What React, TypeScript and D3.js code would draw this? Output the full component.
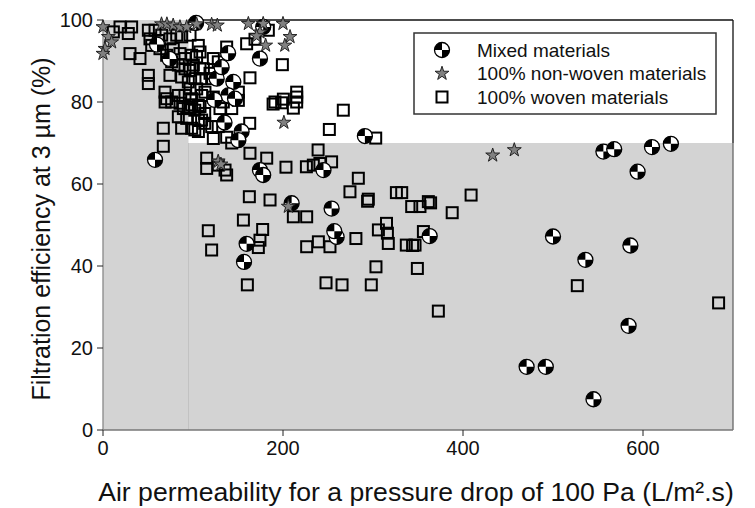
import * as d3 from "d3";

// ---- data ---------------------------------------------------------------
// [air permeability (L/m².s), filtration efficiency (%)]
const wovenPoints: [number, number][] = [
  [11.5, 97.1], [18.9, 98.3], [31.8, 98.3], [28.1, 96.7], [50.4, 97.5], [57.8, 97.5],
  [52.2, 95.4], [61.5, 95.0], [65.2, 96.3], [74.4, 95.4], [81.9, 96.3], [87.4, 95.9],
  [96.7, 96.3], [30, 91.8], [41.1, 90.6], [54.1, 93.8], [63.3, 93.0], [70.7, 91.4],
  [78.1, 93.0], [85.5, 91.8], [91.1, 90.6], [98.5, 91.4], [104, 91], [107.8, 92.2],
  [105.9, 93.8], [76.3, 89.8], [83.7, 89], [91.1, 88.1], [100.4, 89], [107.8, 88.1],
  [96.7, 87.7], [111.5, 88.1], [118.9, 87], [74.4, 86.5], [87.4, 86.1], [94.8, 84.9],
  [102.2, 85.7], [109.6, 85.7], [120.7, 85.7], [50.4, 86.5], [50.4, 84.5], [68.9, 82.4],
  [70.7, 80.8], [76.3, 80], [83.7, 81.6], [91.1, 81.6], [98.5, 80.8], [104.1, 83.2],
  [109.6, 81.6], [96.7, 83.2], [113.3, 82.4], [122.6, 81.2], [105.9, 79.2], [94.8, 78.8],
  [89.3, 78.4], [69, 80], [85.6, 79.7], [98.5, 79.3], [102, 78], [107.8, 78.9],
  [96.7, 78.4], [133.7, 80], [130, 78.4], [83.7, 76.4], [93, 76], [87.4, 73.6],
  [98.5, 73.6], [109.6, 75.6], [106, 72.8], [113, 77.2], [106, 75.6], [113, 74.8],
  [102, 73.2], [120.8, 74], [128, 74], [67, 73.6], [67, 69.2], [122.6, 90.6],
  [128.1, 89.8], [137.4, 93.4], [150.4, 82.4], [150.4, 80.4], [143, 78.4], [163.3, 85.9],
  [159.6, 94.2], [168.9, 95.3], [183.7, 97.5], [199.3, 89.1], [191.1, 80], [200.4, 80.7],
  [215.2, 82.4], [215.2, 81.2], [215.2, 80], [189, 79.5], [198.5, 79.8], [211.5, 78.5],
  [267, 78], [251.5, 73.3], [163, 74.8], [122.6, 71.1], [137.4, 71.4], [143, 70],
  [303, 71.2], [115.2, 66.3], [115.2, 63.8], [128.1, 64.6], [135.6, 63.4], [137.4, 62.2],
  [163.3, 67.5], [181.9, 66.3], [203.3, 64.1], [226, 64.2], [233.7, 64.6], [241, 65],
  [254, 65.4], [239, 68.3], [283.7, 61.4], [274.4, 58.1], [294.8, 56.3], [326, 57.9],
  [331.9, 57.9], [343, 54.5], [352.2, 54.5], [361.5, 55.7], [162.6, 56.9], [185.6, 56.1],
  [211.5, 52], [226.3, 52], [156, 51.2], [117, 48.6], [120.7, 43.9], [177.4, 48.9],
  [174.4, 46.3], [172.6, 44.5], [226.3, 44.7], [239.3, 45.9], [252.2, 44.7], [281, 46.7],
  [306, 48.8], [315, 50.4], [316, 48], [317, 45.5], [160.4, 35.4], [303.3, 39.8],
  [349.3, 39.4], [247.8, 35.9], [265.6, 35.4], [298.1, 35.4], [337, 45.1], [346.7, 45.1],
  [356, 48.4], [294, 55.8], [364, 55.4], [388, 53], [344, 45], [409, 57.3],
  [372.6, 29], [527, 35.2], [684, 31],
];

const mixedPoints: [number, number][] = [
  [57.8, 65.9], [103.5, 99.3], [139, 91.9], [174.4, 90.6], [126.3, 85.7], [144.8, 84.9],
  [131.8, 88.5], [139.2, 81.6], [146.7, 80.8], [124, 80.5], [135, 75], [154, 72.8],
  [150.4, 70.7], [60, 94], [74, 90.5], [174.4, 63.4], [178, 62.2], [245, 63.4],
  [209.6, 55.3], [254, 54], [159.6, 45.4], [156.7, 41], [259.6, 47.1], [257, 48.5],
  [291, 71.7], [363, 47.3], [500, 47.2], [536, 41.5], [586, 45], [584, 25.4],
  [470.7, 15.4], [492, 15.4], [545, 7.5], [556, 67.9], [568, 68.5], [610, 69],
  [631, 69.8], [594, 63], [178, 98.3],
];

const nonWovenPoints: [number, number][] = [
  [0, 98.3], [6, 95.9], [9.6, 94.6], [2.2, 93], [0, 91.8], [65, 99], [71, 99],
  [78, 98.7], [85.5, 98.3], [93, 98.3], [104, 99], [120.7, 98.9], [127, 98.7],
  [161.5, 99.1], [178, 99.1], [200, 99.1], [174.4, 97], [170.7, 96.1], [180.7, 93.8],
  [207.8, 95.9], [202, 93.8], [201, 75], [128, 65.5], [131, 64.8], [205.9, 54.5],
  [433, 67], [457, 68.3],
];

// shaded zone: [x, y] corners
const zoneCorners: [number, number][] = [
  [0, 0], [0, 100], [95, 100], [95, 70], [700, 70], [700, 0],
];

const xTicks = [0, 200, 400, 600];
const yTicks = [0, 20, 40, 60, 80, 100];

const legendItems = [
  { kind: "mixed", label: "Mixed materials" },
  { kind: "star", label: "100% non-woven materials" },
  { kind: "square", label: "100% woven materials" },
];

// ---- layout --------------------------------------------------------------
const W = 755;
const H = 508;
const FONT = "'Liberation Sans', Arial, sans-serif";

const x = d3.scaleLinear().domain([0, 700]).range([103, 733]);
const y = d3.scaleLinear().domain([0, 100]).range([430, 20]);

const SQ = 11;
const R = 7.5;
const starPath = d3.symbol(d3.symbolStar, 60)()!;
const quadTL = d3.arc()({ innerRadius: 0, outerRadius: R, startAngle: -Math.PI / 2, endAngle: 0 })!;
const quadBR = d3.arc()({ innerRadius: 0, outerRadius: R, startAngle: Math.PI / 2, endAngle: Math.PI })!;

function Mixed({ cx, cy }: { cx: number; cy: number }) {
  return (
    <g transform={`translate(${cx},${cy})`}>
      <circle r={R} fill="#fff" />
      <path d={quadTL} fill="#000" />
      <path d={quadBR} fill="#000" />
      <circle r={R} fill="none" stroke="#000" strokeWidth={1.3} />
    </g>
  );
}

function Star({ cx, cy }: { cx: number; cy: number }) {
  return (
    <path
      d={starPath}
      transform={`translate(${cx},${cy})`}
      fill="#808080"
      stroke="#222"
      strokeWidth={1}
    />
  );
}

function Square({ cx, cy }: { cx: number; cy: number }) {
  return (
    <rect
      x={cx - SQ / 2}
      y={cy - SQ / 2}
      width={SQ}
      height={SQ}
      fill="none"
      stroke="#000"
      strokeWidth={2}
    />
  );
}

export default function App() {
  const zone = d3
    .line<[number, number]>()
    .x((d) => x(d[0]))
    .y((d) => y(d[1]))(zoneCorners)! + "Z";

  return (
    <div style={{ position: "fixed", left: 0, top: 0 }}>
      <svg width={W} height={H} style={{ display: "block", background: "#fff" }} fontFamily={FONT}>
        {/* shaded zone */}
        <path d={zone} fill="#d3d3d3" />
        <line x1={x(95)} x2={x(95)} y1={y(0)} y2={y(70)} stroke="#c2c2c2" strokeWidth={1} />

        {/* frame: top + right */}
        <line x1={x(95)} x2={x(700)} y1={y(100)} y2={y(100)} stroke="#111" strokeWidth={1.3} />
        <line x1={x(700)} x2={x(700)} y1={y(100)} y2={y(70)} stroke="#111" strokeWidth={1.3} />
        <line x1={x(700)} x2={x(700)} y1={y(70)} y2={y(0)} stroke="#666" strokeWidth={1.3} />

        {/* axes */}
        <line x1={x(0)} x2={x(700)} y1={y(0)} y2={y(0)} stroke="#777" strokeWidth={1.3} />
        <line x1={x(0)} x2={x(0)} y1={y(0)} y2={y(100)} stroke="#888" strokeWidth={1.3} />
        {xTicks.map((t) => (
          <g key={`x${t}`}>
            <line x1={x(t)} x2={x(t)} y1={y(0)} y2={y(0) + 6} stroke="#222" strokeWidth={1} />
            <text x={x(t)} y={y(0) + 25} textAnchor="middle" fontSize={20} fill="#111">
              {t}
            </text>
          </g>
        ))}
        {yTicks.map((t) => (
          <g key={`y${t}`}>
            <line x1={x(0) - 6} x2={x(0)} y1={y(t)} y2={y(t)} stroke="#222" strokeWidth={1} />
            <text x={x(0) - 10} y={y(t)} dy="0.35em" textAnchor="end" fontSize={20} fill="#111">
              {t}
            </text>
          </g>
        ))}

        {/* marks */}
        {wovenPoints.map((d, i) => (
          <Square key={`s${i}`} cx={x(d[0])} cy={y(d[1])} />
        ))}
        {mixedPoints.map((d, i) => (
          <Mixed key={`m${i}`} cx={x(d[0])} cy={y(d[1])} />
        ))}
        {nonWovenPoints.map((d, i) => (
          <Star key={`n${i}`} cx={x(d[0])} cy={y(d[1])} />
        ))}

        {/* legend */}
        <rect x={414} y={33} width={302} height={81} fill="#fff" stroke="#333" strokeWidth={1.5} />
        {legendItems.map((item, i) => {
          const cy = 50 + i * 23.5;
          return (
            <g key={item.label}>
              {item.kind === "mixed" && <Mixed cx={442} cy={cy} />}
              {item.kind === "star" && <Star cx={442} cy={cy} />}
              {item.kind === "square" && <Square cx={442} cy={cy} />}
              <text x={477} y={cy} dy="0.35em" fontSize={19} fill="#111">
                {item.label}
              </text>
            </g>
          );
        })}

        {/* axis titles */}
        <text x={416} y={501} textAnchor="middle" fontSize={26.6} fill="#111">
          Air permeability for a pressure drop of 100 Pa (L/m².s)
        </text>
        <text
          transform={`translate(50,${(y(0) + y(100)) / 2 + 4}) rotate(-90)`}
          textAnchor="middle"
          fontSize={25}
          fill="#111"
        >
          Filtration efficiency at 3 µm (%)
        </text>
      </svg>
    </div>
  );
}
